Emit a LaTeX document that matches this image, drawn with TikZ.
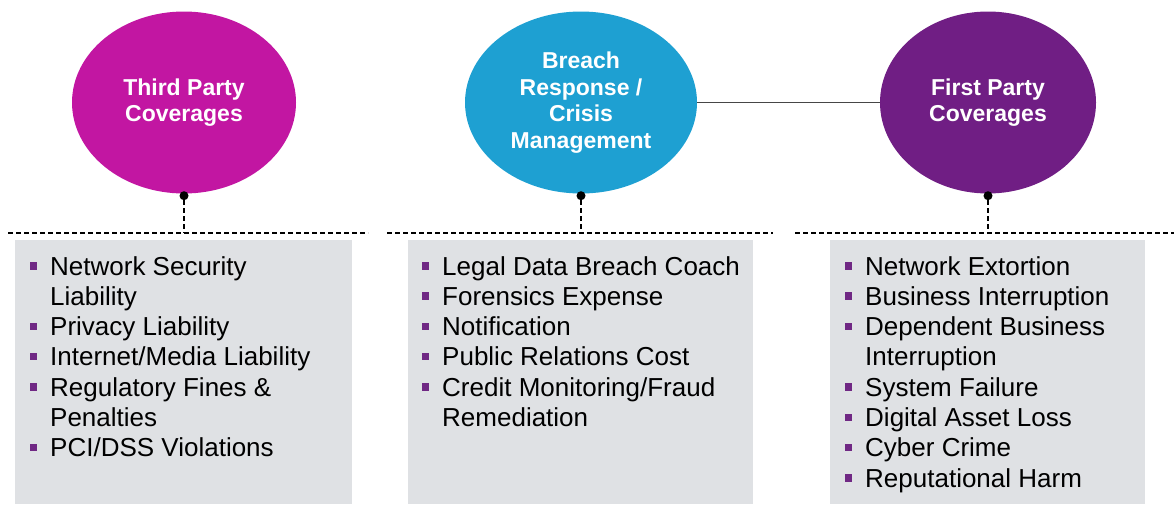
\documentclass[tikz,border=0pt]{standalone}
\usepackage{fontspec}
\setmainfont{Liberation Sans}
\usetikzlibrary{shapes.geometric,positioning,calc}
\definecolor{thirdmagenta}{RGB}{194,22,162}
\definecolor{breachblue}{RGB}{30,160,210}
\definecolor{firstpurple}{RGB}{112,30,132}
\definecolor{bulletpurple}{RGB}{112,40,132}
\definecolor{panelgray}{RGB}{223,225,228}
\definecolor{linkgray}{RGB}{70,70,70}
\newcommand{\covitem}[1]{\par\hangindent=20.5pt\hangafter=1\noindent
  \makebox[20.5pt][l]{\textcolor{bulletpurple}{\rule[5.5pt]{7.5pt}{7.5pt}}}#1}
\newcommand{\covlist}[1]{\begin{minipage}[t]{330pt}\raggedright
  \fontsize{26}{30.3}\selectfont #1\end{minipage}}
\tikzset{
  cover/.style ={ellipse, inner sep=0pt, align=center, text=white,
                 font=\fontsize{23}{26.5}\selectfont\bfseries},
  dot/.style   ={circle, fill=black, minimum size=9pt, inner sep=0pt},
  rail/.style  ={draw=black, line width=1.2pt, dash pattern=on 5pt off 3pt},
  panel/.style ={rectangle, fill=panelgray, inner sep=0pt, anchor=north west},
  itemlist/.style={anchor=base west, inner sep=0pt},
  link/.style  ={draw=linkgray, line width=1.5pt}
}
\begin{document}
\begin{tikzpicture}[x=1pt,y=-1pt]
\useasboundingbox (0,0) rectangle (1174,504);
% Coverage groups
\node[cover, fill=thirdmagenta, minimum width=224pt, minimum height=182pt] (third) at (184,102.5) {Third Party\\Coverages};
\node[cover, fill=breachblue, minimum width=232pt, minimum height=182pt] (breach) at (581,102.5) {Breach\\Response /\\Crisis\\Management};
\node[cover, fill=firstpurple, minimum width=216pt, minimum height=182pt] (first) at (988,102.5) {First Party\\Coverages};
\draw[link] (breach.east) -- (first.west);
% Rails
\coordinate (rail1w) at (8,233);   \coordinate (rail1e) at (368,233);
\coordinate (rail2w) at (387,233); \coordinate (rail2e) at (773,233);
\coordinate (rail3w) at (795,233); \coordinate (rail3e) at (1174,233);
\foreach \r in {1,2,3}{
  \draw[rail] (rail\r w) -- (rail\r e);
}
\foreach \c/\r in {third/1, breach/2, first/3}{
  \node[dot] (\c dot) at ([yshift=-2pt]\c.south) {};
  \draw[rail] (\c dot) -- (\c dot |- rail\r w);
}
% Panels
\node[panel, minimum width=337pt, minimum height=264pt] (thirdpanel) at (15,240) {};
\node[panel, minimum width=345pt, minimum height=264pt] (breachpanel) at (408,240) {};
\node[panel, minimum width=315pt, minimum height=264pt] (firstpanel) at (830,240) {};
% Lists
\node[itemlist] (thirdlist) at (29.5,275) {\covlist{%
  \covitem{Network Security\newline Liability}
  \covitem{Privacy Liability}
  \covitem{Internet/Media Liability}
  \covitem{Regulatory Fines \&\newline Penalties}
  \covitem{PCI/DSS Violations}}};
\node[itemlist] (breachlist) at (421.5,275) {\covlist{%
  \covitem{Legal Data Breach Coach}
  \covitem{Forensics Expense}
  \covitem{Notification}
  \covitem{Public Relations Cost}
  \covitem{Credit Monitoring/Fraud\newline Remediation}}};
\node[itemlist] (firstlist) at (844.5,275) {\covlist{%
  \covitem{Network Extortion}
  \covitem{Business Interruption}
  \covitem{Dependent Business\newline Interruption}
  \covitem{System Failure}
  \covitem{Digital Asset Loss}
  \covitem{Cyber Crime}
  \covitem{Reputational Harm}}};
\end{tikzpicture}
\end{document}
